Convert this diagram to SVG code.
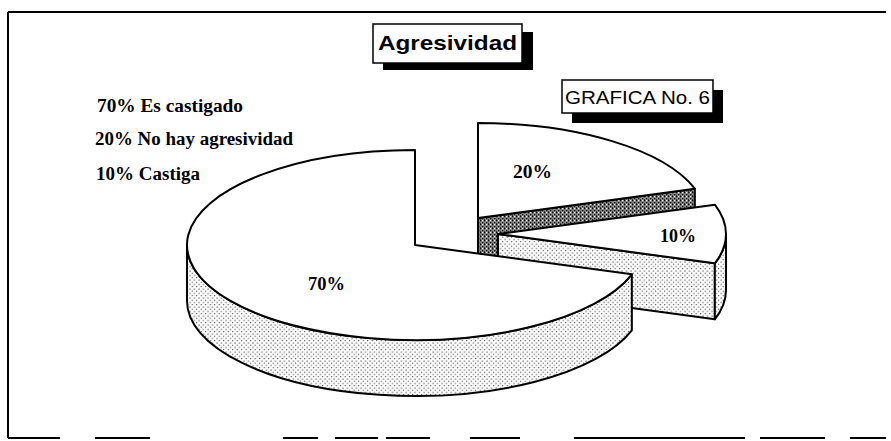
<svg xmlns="http://www.w3.org/2000/svg" width="891" height="441" viewBox="0 0 891 441">
<style>
.ln{fill:none;stroke:#000;stroke-width:2;stroke-linejoin:round}
.face{fill:#fff;stroke:#000;stroke-width:2;stroke-linejoin:round}
.dots{fill:url(#dots);stroke:#000;stroke-width:2;stroke-linejoin:round}
.dark{fill:url(#dark);stroke:#000;stroke-width:2;stroke-linejoin:round}
.box{fill:#fff;stroke:#000;stroke-width:1.5}
.shadow{fill:#000}
.leg{font-family:"Liberation Serif","Times New Roman",serif;font-weight:bold;font-size:18px;fill:#000}
.pct{font-family:"Liberation Serif","Times New Roman",serif;font-weight:bold;font-size:19px;fill:#000}
.ttl{font-family:"Liberation Sans",Arial,sans-serif;fill:#000}
</style>
<defs>
<pattern id="dots" width="4.5" height="4.5" patternUnits="userSpaceOnUse">
<rect width="4.5" height="4.5" fill="#fff"/>
<circle cx="1" cy="1" r="0.65" fill="#111"/>
<circle cx="3.25" cy="3.25" r="0.65" fill="#111"/>
</pattern>
<pattern id="dark" width="4" height="4" patternUnits="userSpaceOnUse">
<rect width="4" height="4" fill="#8c8c8c"/>
<rect x="0" y="0" width="1.3" height="1.3" fill="#000"/>
<rect x="2" y="2" width="1.3" height="1.3" fill="#000"/>
<rect x="2" y="0" width="1" height="1" fill="#fff"/>
<rect x="0" y="3" width="1" height="1" fill="#333"/>
</pattern>
</defs>

<g id="frame">
<line class="ln" x1="8" y1="12" x2="886" y2="12"/>
<line class="ln" x1="8" y1="12" x2="8" y2="438"/>
<path class="ln" d="M8 438H60M95 438H150M283 438H318M335 438H378M386 438H430M470 438H520M574 438H745M760 438H825M850 438H886"/>
</g>

<g id="title">
<rect class="shadow" x="383" y="32" width="150" height="38"/>
<rect class="box" x="373" y="24" width="149" height="39"/>
<text class="ttl" x="378" y="50" font-size="21" font-weight="bold" textLength="139" lengthAdjust="spacingAndGlyphs">Agresividad</text>
</g>

<g id="grafica">
<rect class="shadow" x="572" y="90" width="151" height="33"/>
<rect class="box" x="562" y="80" width="151" height="33"/>
<text class="ttl" x="565" y="104" font-size="19" textLength="145" lengthAdjust="spacingAndGlyphs">GRAFICA No. 6</text>
</g>

<g id="legend">
<text class="leg" x="97" y="112" textLength="146" lengthAdjust="spacingAndGlyphs">70% Es castigado</text>
<text class="leg" x="95" y="145" textLength="198" lengthAdjust="spacingAndGlyphs">20% No hay agresividad</text>
<text class="leg" x="96" y="180" textLength="104" lengthAdjust="spacingAndGlyphs">10% Castiga</text>
</g>

<g id="slice20">
<path class="dark" d="M478 218L694.84 188.64L694.84 244.64L478 274Z"/>
<path class="face" d="M478 218L478 123A228 95 0 0 1 694.84 188.64Z"/>
<text class="pct" x="513" y="178" textLength="39" lengthAdjust="spacingAndGlyphs">20%</text>
</g>

<g id="slice10">
<path class="dots" d="M498 234L714.84 263.36L714.84 319.36L498 290Z"/>
<path class="dots" d="M726 234A228 95 0 0 1 714.84 263.36L714.84 319.36A228 95 0 0 0 726 290Z"/>
<path class="face" d="M498 234L714.84 204.64A228 95 0 0 1 714.84 263.36Z"/>
<text class="pct" x="660" y="242" textLength="36" lengthAdjust="spacingAndGlyphs">10%</text>
</g>

<g id="slice70">
<path class="dots" d="M187 245A228 95 0 0 0 631.84 274.36L631.84 330.36A228 95 0 0 1 187 301Z"/>
<path class="face" d="M415 245L415 150A228 95 0 1 0 631.84 274.36Z"/>
<text class="pct" x="308" y="290" font-weight="normal" textLength="37" lengthAdjust="spacingAndGlyphs">70%</text>
</g>
</svg>
